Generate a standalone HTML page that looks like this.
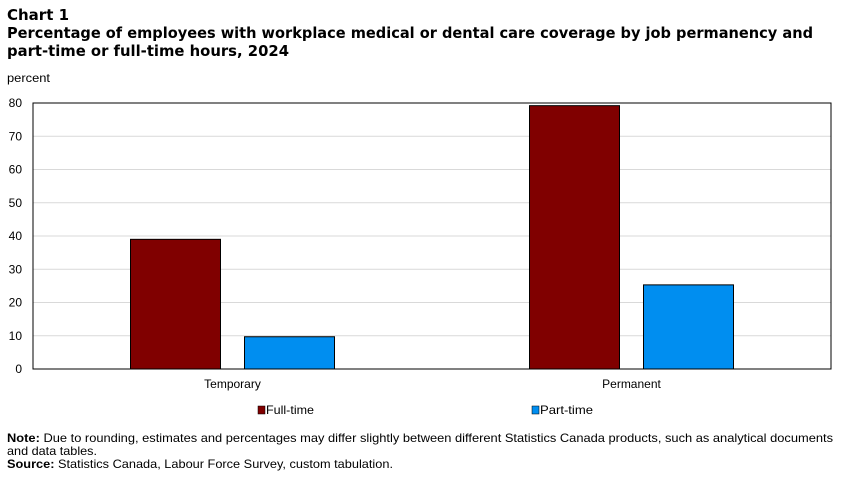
<!DOCTYPE html>
<html><head><meta charset="utf-8"><style>
body{margin:0;background:#fff;}
svg text{font-family:"DejaVu Sans","Liberation Sans",sans-serif;}
.sm{font-family:"Liberation Sans",sans-serif;font-size:12px;}
</style></head><body>
<svg id="c" width="851" height="473" xmlns="http://www.w3.org/2000/svg">
<text x="7" y="20" font-size="15" font-weight="bold">Chart 1</text>
<text x="7" y="38" font-size="15" font-weight="bold" textLength="806" lengthAdjust="spacingAndGlyphs">Percentage of employees with workplace medical or dental care coverage by job permanency and</text>
<text x="7" y="56" font-size="15" font-weight="bold" textLength="282" lengthAdjust="spacingAndGlyphs">part-time or full-time hours, 2024</text>
<text x="7" y="82" class="sm" textLength="43" lengthAdjust="spacingAndGlyphs">percent</text>
<g id="grid"></g>
<g id="bars"></g>
<rect x="33" y="103" width="798" height="266" fill="none" stroke="#000" stroke-width="1"/>
<g id="legend">
<rect x="258" y="406" width="7" height="8" fill="#800000" stroke="#000" stroke-width="0.5"/>
<text x="266" y="414" class="sm" textLength="48" lengthAdjust="spacingAndGlyphs">Full-time</text>
<rect x="532" y="406" width="7" height="8" fill="#008ef0" stroke="#000" stroke-width="0.5"/>
<text x="540" y="414" class="sm" textLength="53" lengthAdjust="spacingAndGlyphs">Part-time</text>
</g>
<text x="7" y="442" class="sm" textLength="826" lengthAdjust="spacingAndGlyphs"><tspan font-weight="bold">Note:</tspan> Due to rounding, estimates and percentages may differ slightly between different Statistics Canada products, such as analytical documents</text>
<text x="7" y="455" class="sm" textLength="90" lengthAdjust="spacingAndGlyphs">and data tables.</text>
<text x="7" y="468" class="sm" textLength="386" lengthAdjust="spacingAndGlyphs"><tspan font-weight="bold">Source:</tspan> Statistics Canada, Labour Force Survey, custom tabulation.</text>
</svg>
<script>
const categories=["Temporary","Permanent"];
const fullTime=[39,79.2];
const partTime=[9.7,25.3];
const yTicks=[0,10,20,30,40,50,60,70,80];
const NS="http://www.w3.org/2000/svg";
const x0=33,x1=831,y0=369,y1=103,yMax=80;
const y=v=>y0-(v/yMax)*(y0-y1);
const band=(x1-x0)/categories.length;
const grid=document.getElementById('grid'),bars=document.getElementById('bars');
function mk(t,a,p){const e=document.createElementNS(NS,t);for(const k in a)e.setAttribute(k,a[k]);p.appendChild(e);return e;}
yTicks.forEach(v=>{
  if(v>0&&v<yMax){const l=mk('line',{x1:x0,x2:x1,y1:y(v),y2:y(v),stroke:'#d9d9d9','stroke-width':1},grid);
  
  }
  const t=mk('text',{x:22,y:y(v)+4,'text-anchor':'end',class:'sm'},grid);t.textContent=v;
  
  
});
categories.forEach((c,i)=>{
  const cx=x0+band*(i+0.5);
  const series=[[fullTime[i],'#800000',-102,'full-time'],[partTime[i],'#008ef0',12,'part-time']];
  series.forEach(s=>{
    const r=mk('rect',{x:cx+s[2],y:y(s[0]),width:90,height:y0-y(s[0]),fill:s[1],stroke:'#000','stroke-width':1},bars);
    
    
  });
  const t=mk('text',{x:cx,y:388,'text-anchor':'middle',class:'sm'},bars);t.textContent=c;
  
  
});
</script>
</body></html>
